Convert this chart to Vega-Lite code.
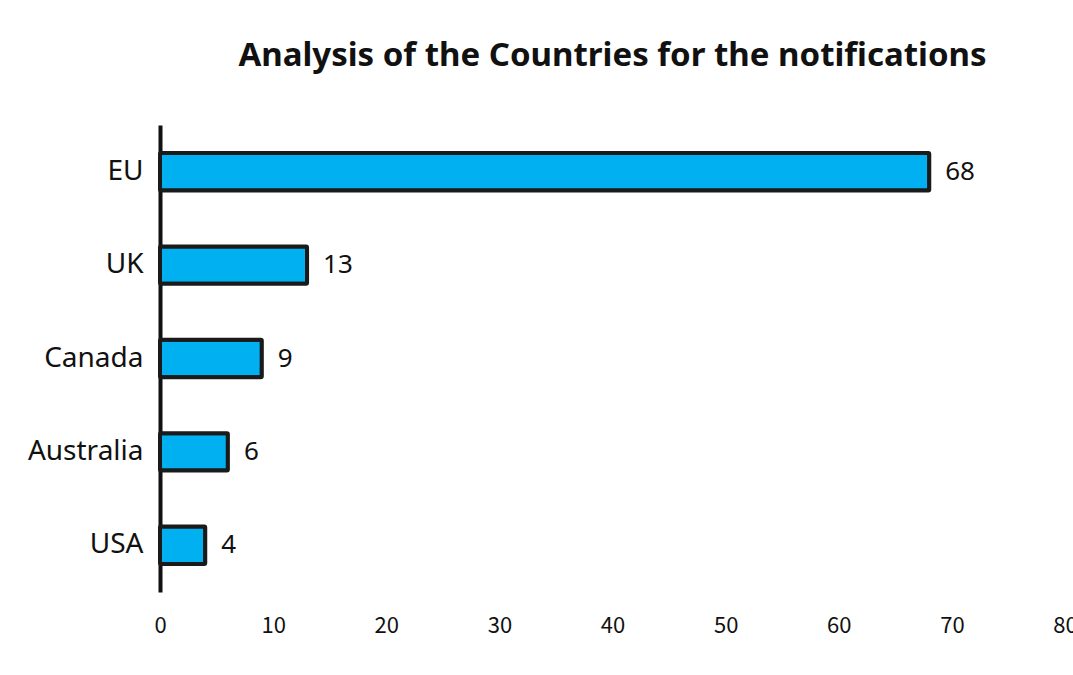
{
  "$schema": "https://vega.github.io/schema/vega-lite/v6.json",
  "autosize": "none",
  "width": 905,
  "height": 467,
  "padding": {"left": 160, "top": 125, "right": 8, "bottom": 83},
  "background": "white",
  "title": {
    "text": "Analysis of the Countries for the notifications",
    "font": "Noto Sans",
    "fontSize": 33,
    "fontWeight": "bold",
    "color": "#111111",
    "anchor": "middle",
    "offset": 52
  },
  "config": {"view": {"stroke": null}},
  "data": {
    "values": [
      {"country": "EU", "count": 68},
      {"country": "UK", "count": 13},
      {"country": "Canada", "count": 9},
      {"country": "Australia", "count": 6},
      {"country": "USA", "count": 4}
    ]
  },
  "encoding": {
    "y": {
      "field": "country",
      "type": "nominal",
      "sort": null,
      "title": null,
      "scale": {"paddingInner": 0.6, "paddingOuter": 0.3},
      "axis": {
        "domainColor": "#111111",
        "domainWidth": 4,
        "ticks": false,
        "labelFont": "Noto Sans",
        "labelFontSize": 28,
        "labelColor": "#111111",
        "labelPadding": 17
      }
    },
    "x": {
      "field": "count",
      "type": "quantitative",
      "title": null,
      "scale": {"domain": [0, 80]},
      "axis": {
        "values": [0, 10, 20, 30, 40, 50, 60, 70, 80],
        "domain": false,
        "ticks": false,
        "grid": false,
        "labelFont": "Noto Sans CJK SC",
        "labelFontSize": 22,
        "labelColor": "#111111",
        "labelPadding": 23,
        "labelFlush": false
      }
    }
  },
  "layer": [
    {
      "mark": {"type": "bar", "color": "#00B0F0", "stroke": "#1a1a1a", "strokeWidth": 4, "cornerRadius": 1}
    },
    {
      "mark": {"type": "text", "align": "left", "baseline": "middle", "dx": 16, "font": "Noto Sans", "fontSize": 26, "color": "#111111"},
      "encoding": {"text": {"field": "count", "type": "quantitative"}}
    }
  ]
}
